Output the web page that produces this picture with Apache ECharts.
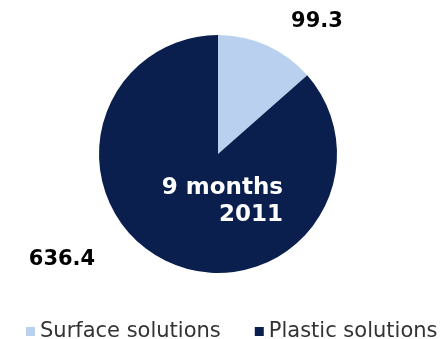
<!DOCTYPE html>
<html>
<head>
<meta charset="utf-8">
<script src="https://cdn.jsdelivr.net/npm/echarts@6/dist/echarts.min.js"></script>
<style>
  html, body { margin: 0; padding: 0; background: #fff; }
  #chart { width: 443px; height: 339px; }
</style>
</head>
<body>
<div id="chart"></div>
<script>
const categories = ['Surface solutions', 'Plastic solutions']
const values = [99.3, 636.4]
const centerLines = ['9 months', '2011']

const colorList = ['#b9d1ee', '#0a1f4e']
// label anchor points (px) per slice
const labelPos = [[317, 22], [62, 260]]

const myChart = echarts.init(document.getElementById('chart'))

myChart.setOption({
  color: colorList,
  animation: false,
  legend: {
    left: 26,
    top: 321,
    width: 430,
    padding: 0,
    icon: 'rect',
    itemWidth: 9,
    itemHeight: 9,
    itemGap: 34,
    textStyle: {
      fontFamily: 'DejaVu Sans',
      fontSize: 21,
      color: '#333'
    },
    data: categories
  },
  graphic: centerLines.map((t, i) => ({
    type: 'text',
    x: 283,
    y: 188 + i * 27,
    z: 100,
    style: {
      text: t,
      fill: '#fff',
      font: 'bold 23px "DejaVu Sans"',
      align: 'right',
      verticalAlign: 'middle'
    }
  })),
  series: [
    {
      type: 'pie',
      center: [218, 154],
      radius: [0, 119],
      startAngle: 90,
      clockwise: true,
      data: categories.map((name, i) => ({ name, value: values[i] })),
      label: {
        show: true,
        position: 'outside',
        formatter: p => p.value.toFixed(1),
        fontFamily: 'DejaVu Sans',
        fontWeight: 'bold',
        fontSize: 21,
        color: '#000'
      },
      labelLine: { show: false },
      labelLayout: params => ({
        x: labelPos[params.dataIndex][0],
        y: labelPos[params.dataIndex][1],
        align: 'center',
        verticalAlign: 'middle'
      }),
      emphasis: { disabled: true }
    }
  ]
})
</script>
</body>
</html>
